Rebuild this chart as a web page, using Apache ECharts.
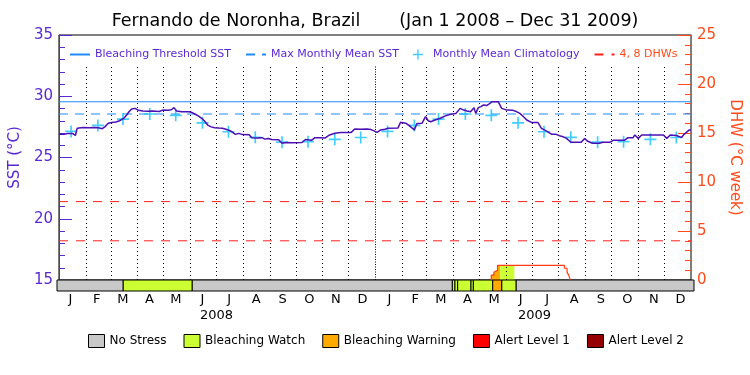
<!DOCTYPE html>
<html>
<head>
<meta charset="utf-8">
<script src="https://cdn.jsdelivr.net/npm/echarts@6/dist/echarts.min.js"></script>
<style>
  html, body { margin: 0; padding: 0; background: #fff; }
  #chart { width: 750px; height: 375px; }
</style>
</head>
<body>
<div id="chart"></div>
<script>
// day 0 = Jan 1 2008, axis runs to day 731 = Jan 1 2010
const dayMs = 86400000;
const t0 = Date.UTC(2008, 0, 1);
const monthStart = [];
for (let i = 0; i <= 24; i++) monthStart.push((Date.UTC(2008, i, 1) - t0) / dayMs);
const totalDays = monthStart[24];

const monthLetters = ['J', 'F', 'M', 'A', 'M', 'J', 'J', 'A', 'S', 'O', 'N', 'D'];
const yearLabels = ['2008', '2009'];
const yearMid = [183, 548];

// SST daily series
const sstDays = [0, 6, 10, 16, 19, 21, 28, 35, 42, 47, 50, 53, 57, 61, 66, 70, 75, 78, 81, 84, 88, 92, 97, 103, 108, 112, 116, 120, 126, 130, 133, 136, 142, 150, 153, 157, 161, 165, 168, 172, 176, 180, 185, 189, 193, 198, 204, 208, 212, 220, 223, 230, 235, 238, 242, 246, 254, 258, 260, 263, 269, 281, 285, 292, 296, 302, 308, 313, 319, 326, 338, 342, 349, 356, 361, 365, 368, 372, 377, 380, 392, 395, 401, 405, 407, 411, 414, 420, 424, 427, 430, 435, 441, 447, 453, 459, 464, 468, 472, 476, 480, 482, 485, 488, 491, 495, 498, 501, 508, 512, 518, 525, 529, 533, 537, 541, 547, 554, 558, 564, 570, 575, 579, 583, 587, 592, 604, 608, 611, 617, 625, 629, 637, 641, 654, 658, 664, 666, 670, 674, 691, 699, 703, 707, 714, 720, 723, 729, 731];
const sstValues = [26.9, 26.9, 26.95, 26.95, 26.8, 27.38, 27.45, 27.42, 27.45, 27.4, 27.35, 27.5, 27.79, 27.85, 27.9, 28.0, 28.2, 28.45, 28.74, 28.96, 29.01, 28.85, 28.8, 28.78, 28.8, 28.78, 28.75, 28.87, 28.85, 28.9, 29.07, 28.8, 28.74, 28.74, 28.7, 28.55, 28.4, 28.2, 28.0, 27.65, 27.5, 27.43, 27.4, 27.38, 27.3, 27.19, 26.89, 26.97, 26.87, 26.85, 26.62, 26.6, 26.62, 26.5, 26.55, 26.47, 26.45, 26.16, 26.0, 26.23, 26.21, 26.22, 26.47, 26.4, 26.62, 26.62, 26.6, 26.84, 26.98, 27.05, 27.05, 27.33, 27.3, 27.32, 27.28, 27.15, 27.05, 27.25, 27.3, 27.38, 27.4, 27.87, 27.8, 27.6, 27.5, 27.25, 27.78, 27.8, 28.33, 28.0, 27.92, 28.06, 28.2, 28.4, 28.53, 28.6, 29.01, 28.87, 28.8, 28.74, 29.07, 28.6, 29.07, 29.15, 29.29, 29.25, 29.4, 29.56, 29.56, 29.01, 28.87, 28.85, 28.75, 28.6, 28.35, 28.06, 27.85, 27.85, 27.38, 27.15, 26.89, 26.89, 26.78, 26.7, 26.56, 26.24, 26.24, 26.56, 26.35, 26.16, 26.16, 26.24, 26.24, 26.4, 26.4, 26.62, 26.62, 26.84, 26.56, 26.84, 26.84, 26.84, 26.56, 26.84, 26.8, 26.64, 26.89, 27.25, 27.25];

// monthly mean climatology, Jan..Dec (plotted on the 15th)
const climatology = [27.13, 27.62, 28.14, 28.55, 28.44, 27.83, 27.1, 26.65, 26.25, 26.29, 26.48, 26.63];
const mmm = 28.55;
const threshold = 29.55;
const dhwLevels = [4, 8];

// degree heating weeks (step values)
const dhwDays = [500, 500, 503, 505.3, 507.2, 584.6, 587.6, 589.5, 591.4];
const dhwValues = [0, 0.5, 0.8, 1.0, 1.5, 1.2, 0.8, 0.5, 0];

// stress bar segments
const stressStart = [0, 76, 155, 453.7, 456.7, 459.8, 475.1, 477.8, 500, 510.3, 526.7];
const stressEnd = [76, 155, 453.7, 456.7, 459.8, 475.1, 477.8, 500, 510.3, 526.7, 731];
const stressLevel = [0, 1, 0, 1, 1, 1, 1, 1, 2, 1, 0];
const stressNames = ['No Stress', 'Bleaching Watch', 'Bleaching Warning', 'Alert Level 1', 'Alert Level 2'];
const stressColors = ['#c8c8c8', '#ccff33', '#ffaa00', '#ff0000', '#960000'];

const purple = '#5a28d2';
const orange = '#ff4a1a';
const font = 'DejaVu Sans';

const chart = echarts.init(document.getElementById('chart'));

const monthMid = [];
for (let i = 0; i < 24; i++) monthMid.push((monthStart[i] + monthStart[i + 1]) / 2);
const climData = [];
for (let i = 0; i < 24; i++) climData.push([monthStart[i] + 14, climatology[i % 12]]);

function dhwAt(d) {
  let v = 0;
  for (let i = 0; i < dhwDays.length; i++) {
    if (dhwDays[i] <= d) v = dhwValues[i];
  }
  return v;
}

// dotted month separators
const monthLines = [];
for (let i = 1; i < 24; i++) {
  monthLines.push([
    { coord: [monthStart[i], 15], lineStyle: { type: i === 12 ? [1, 1.5] : [1, 3] } },
    { coord: [monthStart[i], 32.55] }
  ]);
}

const series = [
  {
    name: 'Bleaching Threshold SST', type: 'line', symbol: 'none',
    data: [[0, threshold], [totalDays, threshold]],
    lineStyle: { color: '#1e8cff', width: 1 }, itemStyle: { color: '#1e8cff' },
    markLine: {
      silent: true, symbol: ['none', 'none'], label: { show: false },
      lineStyle: { color: '#000', width: 1 }, data: monthLines
    },
    z: 2
  },
  {
    name: 'Max Monthly Mean SST', type: 'line', symbol: 'none',
    data: [[0, mmm], [totalDays, mmm]],
    lineStyle: { color: '#1e8cff', width: 1, type: [9, 7] }, itemStyle: { color: '#1e8cff' },
    z: 2
  },
  {
    name: 'Monthly Mean Climatology', type: 'scatter',
    symbol: 'path://M4.3,0h1.4v4.3h4.3v1.4h-4.3v4.3h-1.4v-4.3h-4.3v-1.4h4.3z',
    symbolSize: 12, data: climData, itemStyle: { color: '#14c0ff' }, z: 4
  }
];

dhwLevels.forEach(function (lv) {
  series.push({
    name: '4, 8 DHWs', type: 'line', symbol: 'none', yAxisIndex: 1,
    data: [[0, lv], [totalDays, lv]],
    lineStyle: { color: '#ff1e1e', width: 1, type: [9, 8] }, itemStyle: { color: '#ff1e1e' },
    z: 2
  });
});

series.push({
  name: 'SST', type: 'line', symbol: 'none',
  data: sstDays.map(function (d, i) { return [d, sstValues[i]]; }),
  lineStyle: { color: '#4b0fb4', width: 1.5 }, itemStyle: { color: '#4b0fb4' },
  z: 5
});

// DHW fill coloured by stress level
const warmSegments = [];
stressLevel.forEach(function (lv, i) { if (lv > 0) warmSegments.push(i); });
series.push({
  name: 'DHW fill', type: 'custom', yAxisIndex: 1, clip: true, silent: true,
  data: warmSegments,
  renderItem: function (params, api) {
    const i = api.value(0);
    const s = stressStart[i], e = stressEnd[i];
    const xs = [s];
    dhwDays.forEach(function (d) { if (d > s && d < e) xs.push(d); });
    xs.push(e);
    const pts = [api.coord([s, 0])];
    let maxV = 0;
    for (let k = 0; k < xs.length - 1; k++) {
      const v = dhwAt(xs[k]);
      maxV = Math.max(maxV, v);
      pts.push(api.coord([xs[k], v]));
      pts.push(api.coord([xs[k + 1], v]));
    }
    pts.push(api.coord([e, 0]));
    if (maxV <= 0) return null;
    return { type: 'polygon', shape: { points: pts }, style: { fill: stressColors[stressLevel[i]] } };
  },
  z: 3
});

series.push({
  name: 'DHW', type: 'line', symbol: 'none', yAxisIndex: 1, step: 'end',
  data: dhwDays.map(function (d, i) { return [d, dhwValues[i]]; }),
  lineStyle: { color: '#ff3c14', width: 1.2 }, itemStyle: { color: '#ff3c14' },
  z: 4
});

// stress bar, one custom series per level
stressNames.forEach(function (nm, lv) {
  const segs = [];
  stressLevel.forEach(function (l, i) { if (l === lv) segs.push([stressStart[i], stressEnd[i]]); });
  series.push({
    name: nm, type: 'custom', xAxisIndex: 1, yAxisIndex: 2, silent: true,
    itemStyle: { color: stressColors[lv] },
    data: segs,
    renderItem: function (params, api) {
      const p1 = api.coord([api.value(0), 1]);
      const p2 = api.coord([api.value(1), 0]);
      return {
        type: 'rect',
        shape: { x: p1[0], y: p1[1], width: p2[0] - p1[0], height: p2[1] - p1[1] },
        style: { fill: stressColors[lv], stroke: '#000', lineWidth: 1 }
      };
    },
    z: 3
  });
});

const hideSymbol = { opacity: 0 };

const option = {
  animation: false,
  backgroundColor: '#fff',
  textStyle: { fontFamily: font },
  title: {
    text: 'Fernando de Noronha, Brazil\u00a0\u00a0\u00a0\u00a0\u00a0\u00a0\u00a0(Jan 1 2008 \u2013 Dec 31 2009)',
    left: 'center', top: 7,
    textStyle: { fontFamily: font, fontSize: 17.5, fontWeight: 'normal', color: '#000' }
  },
  legend: [
    {
      top: 44, left: 64, itemWidth: 20, itemHeight: 10, itemGap: 14, selectedMode: false,
      textStyle: { color: purple, fontSize: 11, fontFamily: font },
      data: [
        { name: 'Bleaching Threshold SST', itemStyle: hideSymbol },
        { name: 'Max Monthly Mean SST', itemStyle: hideSymbol },
        { name: 'Monthly Mean Climatology' },
        { name: '4, 8 DHWs', itemStyle: hideSymbol, textStyle: { color: orange } }
      ]
    },
    {
      top: 329, left: 83, itemWidth: 16, itemHeight: 13, itemGap: 17, selectedMode: false,
      icon: 'rect',
      itemStyle: { borderColor: '#000', borderWidth: 1 },
      textStyle: { color: '#000', fontSize: 12, fontFamily: font },
      data: stressNames
    }
  ],
  grid: [
    { left: 57, right: 56, top: 35, bottom: 95, show: true, borderColor: '#000', borderWidth: 1 },
    { left: 57, right: 56, top: 280, height: 11 }
  ],
  xAxis: [
    {
      gridIndex: 0, type: 'value', min: 0, max: totalDays,
      axisLine: { show: false }, axisTick: { show: false },
      axisLabel: { show: false }, splitLine: { show: false }
    },
    {
      gridIndex: 1, type: 'value', min: 0, max: totalDays,
      axisLine: { show: false }, axisTick: { show: false }, splitLine: { show: false },
      axisLabel: {
        customValues: monthMid, margin: 2, color: '#000', fontSize: 13, fontFamily: font,
        formatter: function (v) {
          const i = monthMid.findIndex(function (m) { return Math.abs(m - v) < 0.01; });
          return i < 0 ? '' : monthLetters[i % 12];
        }
      }
    },
    {
      gridIndex: 1, type: 'value', min: 0, max: totalDays, position: 'bottom', offset: 16,
      axisLine: { show: false }, axisTick: { show: false }, splitLine: { show: false },
      axisLabel: {
        customValues: yearMid, margin: 2, color: '#000', fontSize: 13, fontFamily: font,
        formatter: function (v) { return v < 366 ? yearLabels[0] : yearLabels[1]; }
      }
    }
  ],
  yAxis: [
    {
      gridIndex: 0, type: 'value', min: 15, max: 35, interval: 5, position: 'left',
      name: 'SST (\u00b0C)', nameLocation: 'middle', nameGap: 30,
      nameTextStyle: { color: purple, fontSize: 15, fontFamily: font },
      axisLine: { show: true, lineStyle: { color: purple, width: 1 } },
      axisTick: { show: true, inside: true, length: 13, lineStyle: { color: purple } },
      minorTick: { show: true, splitNumber: 5, length: 6, lineStyle: { color: purple } },
      axisLabel: { color: purple, fontSize: 15, margin: 6, fontFamily: font },
      splitLine: { show: false }
    },
    {
      gridIndex: 0, type: 'value', min: 0, max: 25, interval: 5, position: 'right',
      name: 'DHW (\u00b0C week)', nameLocation: 'middle', nameGap: 35, nameRotate: -90,
      nameTextStyle: { color: orange, fontSize: 15, fontFamily: font },
      axisLine: { show: true, lineStyle: { color: orange, width: 1 } },
      axisTick: { show: true, inside: true, length: 13, lineStyle: { color: orange } },
      minorTick: { show: true, splitNumber: 5, length: 6, lineStyle: { color: orange } },
      axisLabel: { color: orange, fontSize: 15, margin: 6, fontFamily: font },
      splitLine: { show: false }
    },
    {
      gridIndex: 1, type: 'value', min: 0, max: 1, show: false
    }
  ],
  series: series
};

chart.setOption(option);
</script>
</body>
</html>
